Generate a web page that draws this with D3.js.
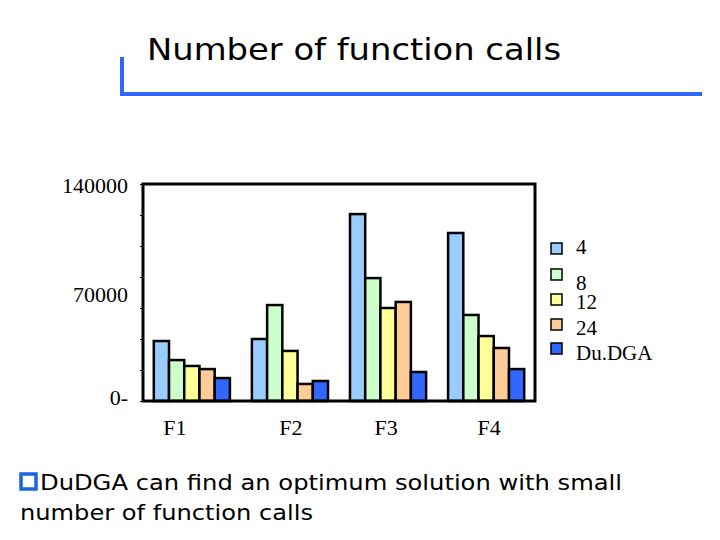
<!DOCTYPE html><html><head><meta charset="utf-8"><script src="https://cdn.jsdelivr.net/npm/d3@7"></script>
<style>body{margin:0;background:#fff}</style></head><body><svg id="c" width="720" height="540"></svg>
<script>
const categories=["F1","F2","F3","F4"];
const seriesNames=["4","8","12","24","Du.DGA"];
const colors=["#99ccff","#ccffcc","#ffff99","#ffcc99","#3366ff"];
const values=[
 [38700,26400,22600,20600,14800],
 [40000,61900,32300,11000,12900],
 [120600,79300,60000,63900,18700],
 [108400,55500,41900,34200,20600]];
const tickLabels=[0,70000,140000];
const svg=d3.select("#c");
svg.append("path").attr("d","M122,57V94H702").attr("fill","none").attr("stroke","#3366ff").attr("stroke-width",4);
svg.append("text").attr("x",147).attr("y",60).attr("font-family","'Comic Sans MS','DejaVu Sans'").attr("font-size",30).attr("textLength",414).attr("lengthAdjust","spacingAndGlyphs").text("Number of function calls");
const x=d3.scaleBand().domain(categories).range([143,535]).paddingInner(0.224).paddingOuter(0.11);
const x1=d3.scaleBand().domain(seriesNames).range([0,x.bandwidth()]);
const y=d3.scaleLinear().domain([0,140000]).range([401,184]);
const g=svg.append("g");
categories.forEach((c,i)=>{
  g.selectAll(null).data(values[i]).enter().append("rect")
   .attr("x",(d,j)=>x(c)+x1(seriesNames[j])).attr("y",d=>y(d))
   .attr("width",x1.bandwidth()).attr("height",d=>y(0)-y(d))
   .attr("fill",(d,j)=>colors[j]).attr("stroke","#000").attr("stroke-width",2.5);
});
svg.append("rect").attr("x",143).attr("y",184).attr("width",392).attr("height",217).attr("fill","none").attr("stroke","#000").attr("stroke-width",3);
const ya=svg.append("g").attr("transform","translate(143,0)").call(d3.axisLeft(y).tickValues(d3.range(0,140001,20000)).tickSize(3).tickFormat(""));
ya.select(".domain").remove();
svg.selectAll(null).data(tickLabels).enter().append("text").attr("x",128).attr("y",d=>y(d)+(d===0?4:9)).attr("text-anchor","end")
 .attr("font-family","'Liberation Serif'").attr("font-size",22).text(d=>d+(d===0?"-":""));
const labShift=[-17,1,-2,3];
svg.selectAll(null).data(categories).enter().append("text").attr("x",(c,i)=>x(c)+x.bandwidth()/2+labShift[i]).attr("y",435).attr("text-anchor","middle")
 .attr("font-family","'Liberation Serif'").attr("font-size",22).text(c=>c);
const lg=svg.append("g");
const labY=[254,290,309,335,360];
seriesNames.forEach((s,i)=>{
  const yy=[249,275,300,325,349][i];
  lg.append("rect").attr("x",551).attr("y",yy-6).attr("width",11).attr("height",11).attr("fill",colors[i]).attr("stroke","#000").attr("stroke-width",1.5);
  lg.append("text").attr("x",576).attr("y",labY[i]).attr("font-family","'Liberation Serif'").attr("font-size",21).text(s);
});
svg.append("rect").attr("x",21).attr("y",474).attr("width",15).attr("height",15).attr("fill","#fff").attr("stroke","#1a66dd").attr("stroke-width",3.5);
svg.append("text").attr("x",40).attr("y",490).attr("font-family","'DejaVu Sans'").attr("font-size",22).attr("textLength",582).attr("lengthAdjust","spacingAndGlyphs").text("DuDGA can find an optimum solution with small");
svg.append("text").attr("x",20).attr("y",520).attr("font-family","'DejaVu Sans'").attr("font-size",22).attr("textLength",293).attr("lengthAdjust","spacingAndGlyphs").text("number of function calls");
</script></body></html>
